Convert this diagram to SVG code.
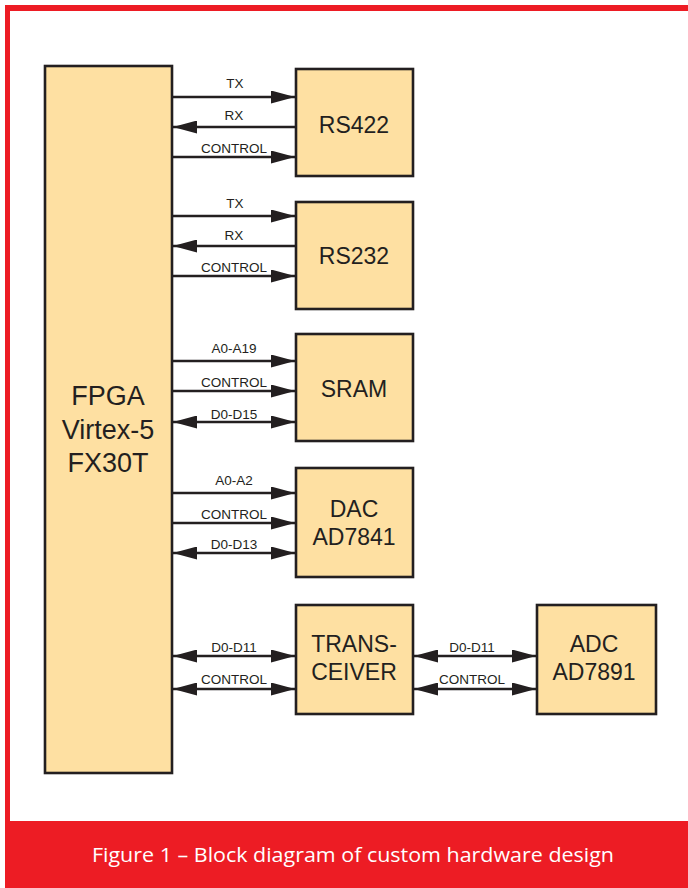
<svg xmlns="http://www.w3.org/2000/svg" width="688" height="888" viewBox="0 0 688 888">
<style>
.box{fill:#fee0a2;stroke:#231f20;stroke-width:2.6}
.big{font-family:"Liberation Sans",Arial,sans-serif;font-size:23px;fill:#231f20;text-anchor:middle}
.fpga{font-family:"Liberation Sans",Arial,sans-serif;font-size:27px;fill:#231f20;text-anchor:middle}
.lbl{font-family:"Liberation Sans",Arial,sans-serif;font-size:13.5px;fill:#231f20;text-anchor:middle}
.w{stroke:#231f20;stroke-width:2.5;fill:none}
.uni{marker-end:url(#ah)}
.bi{marker-start:url(#ah);marker-end:url(#ah)}
.cap{font-family:"Open Sans","Noto Sans",sans-serif;font-size:20px;fill:#ffffff;text-anchor:middle}
</style>
<defs>
<marker id="ah" markerUnits="userSpaceOnUse" markerWidth="24" markerHeight="13" refX="24" refY="6.5" orient="auto-start-reverse">
<path d="M0,0 L24,6.5 L0,13 z" fill="#231f20"/>
</marker>
</defs>
<rect x="0" y="0" width="688" height="888" fill="#ffffff"/>
<g id="frame">
<rect x="5" y="5" width="683" height="6" fill="#ed1c24"/>
<rect x="5" y="5" width="5" height="820" fill="#ed1c24"/>
<rect x="5" y="821" width="683" height="67" fill="#ed1c24"/>
<text class="cap" x="353" y="862" textLength="522" lengthAdjust="spacingAndGlyphs">Figure 1 – Block diagram of custom hardware design</text>
</g>
<g id="fpga">
<rect class="box" x="45" y="66" width="127" height="707"/>
<text class="fpga" x="108" y="405">FPGA</text>
<text class="fpga" x="108" y="439">Virtex-5</text>
<text class="fpga" x="108" y="472">FX30T</text>
</g>
<g id="rs422">
<rect class="box" x="296" y="69" width="117" height="107"/>
<text class="big" x="354" y="133">RS422</text>
</g>
<g id="rs232">
<rect class="box" x="296" y="202" width="117" height="107"/>
<text class="big" x="354" y="264">RS232</text>
</g>
<g id="sram">
<rect class="box" x="296" y="334" width="117" height="107"/>
<text class="big" x="354" y="397">SRAM</text>
</g>
<g id="dac">
<rect class="box" x="296" y="468" width="117" height="109"/>
<text class="big" x="354" y="517">DAC</text>
<text class="big" x="354" y="545">AD7841</text>
</g>
<g id="transceiver">
<rect class="box" x="296" y="605" width="117" height="109"/>
<text class="big" x="354" y="652">TRANS-</text>
<text class="big" x="354" y="680">CEIVER</text>
</g>
<g id="adc">
<rect class="box" x="537" y="605" width="119" height="109"/>
<text class="big" x="594" y="652">ADC</text>
<text class="big" x="594" y="680">AD7891</text>
</g>
<g id="connectors">
<line class="w uni" x1="173" y1="97" x2="295" y2="97"/>
<line class="w uni" x1="295" y1="127" x2="173" y2="127"/>
<line class="w uni" x1="173" y1="157" x2="295" y2="157"/>
<line class="w uni" x1="173" y1="216" x2="295" y2="216"/>
<line class="w uni" x1="295" y1="246" x2="173" y2="246"/>
<line class="w uni" x1="173" y1="276" x2="295" y2="276"/>
<line class="w uni" x1="173" y1="361" x2="295" y2="361"/>
<line class="w uni" x1="173" y1="391" x2="295" y2="391"/>
<line class="w bi" x1="173" y1="422" x2="295" y2="422"/>
<line class="w uni" x1="173" y1="493" x2="295" y2="493"/>
<line class="w uni" x1="173" y1="523" x2="295" y2="523"/>
<line class="w bi" x1="173" y1="553" x2="295" y2="553"/>
<line class="w bi" x1="173" y1="656" x2="295" y2="656"/>
<line class="w bi" x1="173" y1="689" x2="295" y2="689"/>
<line class="w bi" x1="414" y1="656" x2="536" y2="656"/>
<line class="w bi" x1="414" y1="689" x2="536" y2="689"/>
<text class="lbl" x="235" y="88">TX</text>
<text class="lbl" x="234" y="120">RX</text>
<text class="lbl" x="234" y="153">CONTROL</text>
<text class="lbl" x="235" y="208">TX</text>
<text class="lbl" x="234" y="240">RX</text>
<text class="lbl" x="234" y="272">CONTROL</text>
<text class="lbl" x="234" y="353">A0-A19</text>
<text class="lbl" x="234" y="387">CONTROL</text>
<text class="lbl" x="234" y="419">D0-D15</text>
<text class="lbl" x="234" y="485">A0-A2</text>
<text class="lbl" x="234" y="519">CONTROL</text>
<text class="lbl" x="234" y="549">D0-D13</text>
<text class="lbl" x="234" y="652">D0-D11</text>
<text class="lbl" x="234" y="684">CONTROL</text>
<text class="lbl" x="472" y="652">D0-D11</text>
<text class="lbl" x="472" y="684">CONTROL</text>
</g>
</svg>
